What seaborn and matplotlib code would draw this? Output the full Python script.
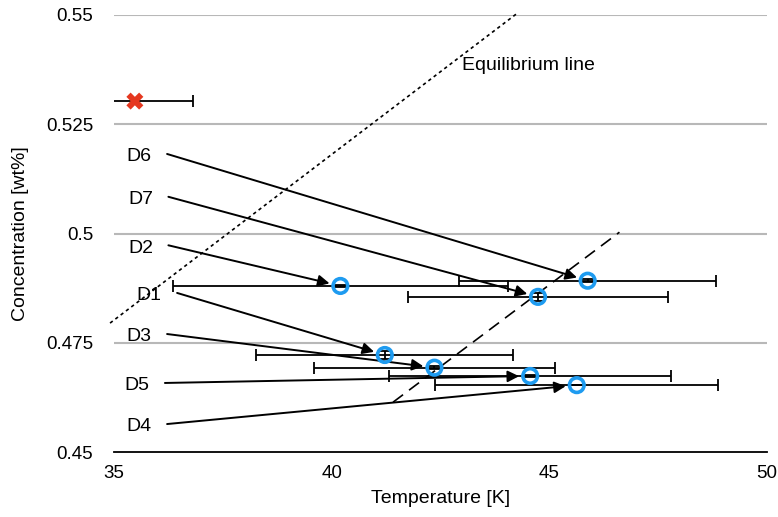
import matplotlib
matplotlib.use("Agg")
import matplotlib.pyplot as plt
import numpy as np
import seaborn as sns

# measured samples (arrow target = measured point)
samples = ["D1", "D2", "D3", "D4", "D5", "D6", "D7"]
temp = [41.22, 40.20, 42.36, 45.63, 44.56, 45.88, 44.74]
conc = [0.4722, 0.4880, 0.4693, 0.4653, 0.4674, 0.4892, 0.4855]
temp_err = [2.95, 3.84, 2.76, 3.25, 3.24, 2.95, 2.98]
conc_err = [0.0010, 0.0003, 0.0003, 0.0, 0.0003, 0.0003, 0.0009]

# where each sample's arrow starts (initial state)
start_temp = [36.45, 36.25, 36.22, 36.22, 36.17, 36.22, 36.25]
start_conc = [0.4864, 0.4973, 0.4770, 0.4564, 0.4658, 0.5182, 0.5084]

# reference point (red cross)
ref_temp = [35.48]
ref_conc = [0.5303]
ref_temp_err = [1.34]

# guide lines
eq_temp = [34.91, 44.29]
eq_conc = [0.4795, 0.5506]
dash_temp = [41.41, 46.61]
dash_conc = [0.4614, 0.5003]

x_ticks = [35, 40, 45, 50]
y_ticks = [0.45, 0.475, 0.5, 0.525, 0.55]
y_tick_labels = ["0.45", "0.475", "0.5", "0.525", "0.55"]

sns.set_theme(style="white")
plt.rcParams["font.family"] = ["Liberation Sans", "DejaVu Sans"]
plt.rcParams.update({"text.color": "black", "axes.labelcolor": "black",
                     "xtick.color": "black", "ytick.color": "black"})

fig = plt.figure(figsize=(7.78, 5.17), dpi=100)
ax = fig.add_axes([0.1465, 0.1257, 0.8394, 0.8453])

ax.set_xlim(35, 50)
ax.set_ylim(0.45, 0.55)
for y in y_ticks[1:]:
    ax.axhline(y, color="#b8b8b8", lw=1.5, zorder=0)

ax.set_xticks(x_ticks)
ax.set_yticks(y_ticks)
ax.set_yticklabels(y_tick_labels)
ax.tick_params(axis="y", length=0, pad=15, labelsize=13.5)
ax.tick_params(axis="x", length=0, pad=9, labelsize=13.5)
for side in ["left", "right", "top"]:
    ax.spines[side].set_visible(False)
ax.spines["bottom"].set_color("black")
ax.spines["bottom"].set_linewidth(1.3)

# guide lines
sns.lineplot(x=eq_temp, y=eq_conc, ax=ax, color="black", lw=1.2,
             linestyle=(0, (2, 2)), clip_on=False)
sns.lineplot(x=dash_temp, y=dash_conc, ax=ax, color="black", lw=1.2,
             linestyle=(0, (7.5, 4.5)))
ax.text(43.0, 0.5385, "Equilibrium line", ha="left", va="center", fontsize=14)

# error bars
ax.errorbar(temp, conc, xerr=temp_err, yerr=conc_err, fmt="none", ecolor="black",
            elinewidth=1.3, capsize=4, capthick=1.3, zorder=2)
ax.errorbar(ref_temp, ref_conc, xerr=ref_temp_err, fmt="none", ecolor="black",
            elinewidth=1.3, capsize=4, capthick=1.3, zorder=2)

# arrows + labels
for name, x0, y0, x1, y1 in zip(samples, start_temp, start_conc, temp, conc):
    ax.annotate("", xy=(x1, y1), xytext=(x0, y0),
                arrowprops=dict(arrowstyle="-|>", color="black", lw=1.4,
                                mutation_scale=17, shrinkA=0, shrinkB=8),
                zorder=3)
    ax.annotate(name, xy=(x0, y0), xytext=(-11, -2), textcoords="offset points",
                ha="right", va="center", fontsize=14)

# markers
sns.scatterplot(x=temp, y=conc, ax=ax, marker="o", s=110, facecolor="none",
                edgecolor="#1e9bf0", linewidth=2.6, zorder=4)
sns.scatterplot(x=ref_temp, y=ref_conc, ax=ax, marker="X", s=150,
                color="#e5371f", edgecolor="none", zorder=4, clip_on=False)

ax.set_xlabel("Temperature [K]", fontsize=14, labelpad=6)
ax.set_ylabel("Concentration [wt%]", fontsize=14, labelpad=12)

fig.savefig("out.png", dpi=100)
